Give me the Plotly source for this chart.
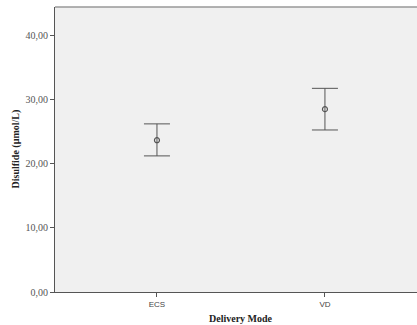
import plotly.graph_objects as go

categories = ["ECS", "VD"]
means = [23.7, 28.55]
upper = [26.25, 31.8]
lower = [21.25, 25.3]
y_ticks = [0, 10, 20, 30, 40]
y_tick_labels = ["0,00", "10,00", "20,00", "30,00", "40,00"]

err_plus = [u - m for u, m in zip(upper, means)]
err_minus = [m - l for m, l in zip(means, lower)]

fig = go.Figure()
fig.add_trace(go.Scatter(
    x=[0, 1], y=means, mode="markers",
    marker=dict(symbol="circle-open", size=5, color="#555555", line=dict(width=1.2)),
    error_y=dict(type="data", symmetric=False, array=err_plus, arrayminus=err_minus,
                 color="#555555", thickness=1, width=13),
    showlegend=False,
))

fig.update_layout(
    width=417, height=325,
    margin=dict(l=55, r=0, t=7, b=33, autoexpand=False),
    paper_bgcolor="white", plot_bgcolor="#f0f0f0",
    xaxis=dict(range=[-0.607, 1.548], tickvals=[0, 1], ticktext=categories, automargin=False,
               showgrid=False, zeroline=False, showline=True, linecolor="#555555", linewidth=1.2,
               ticks="outside", ticklen=4, tickcolor="#555555",
               tickfont=dict(family="Liberation Sans", size=8, color="#444444")),
    yaxis=dict(range=[0, 44.5], tickvals=y_ticks, ticktext=y_tick_labels, automargin=False,
               showgrid=False, zeroline=False, showline=True, linecolor="#555555", linewidth=1.2,
               ticks="outside", ticklen=4, tickcolor="#555555",
               tickfont=dict(family="Liberation Serif", size=10, color="#555555")),
)
fig.add_shape(type="line", xref="paper", yref="paper", x0=0, x1=1, y0=1, y1=1,
              line=dict(color="#999999", width=1.5))
fig.add_annotation(text="<b>Delivery Mode</b>", xref="x", yref="paper", x=0.5, y=0,
                   yshift=-26, showarrow=False, yanchor="middle",
                   font=dict(family="Liberation Serif", size=10, color="#222222"))
fig.add_annotation(text="<b>Disulfide (µmol/L)</b>", xref="paper", yref="paper",
                   x=-40 / 362, y=0.5, textangle=-90, showarrow=False,
                   xanchor="center", yanchor="middle",
                   font=dict(family="Liberation Serif", size=10, color="#222222"))
fig.write_html("out.html", config={"displayModeBar": False},
               post_script="document.body.style.margin='0';")
